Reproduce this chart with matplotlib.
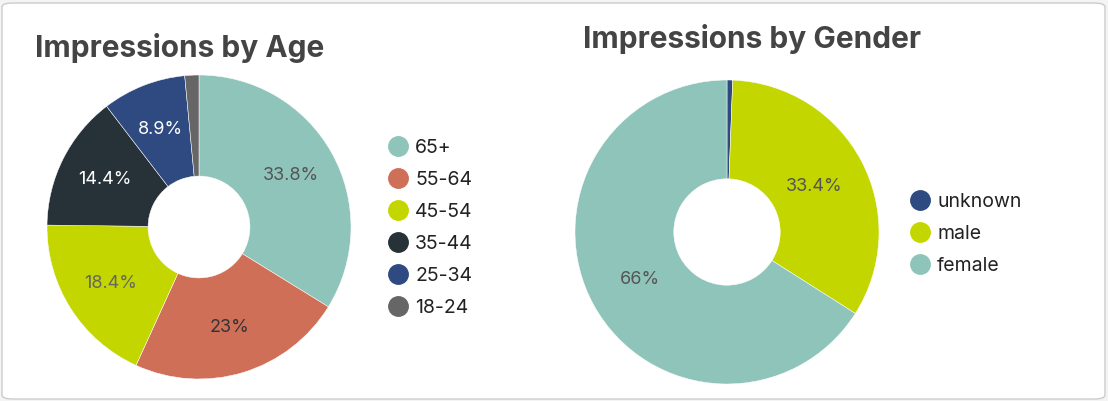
import matplotlib
matplotlib.use('Agg')
import matplotlib.pyplot as plt
from matplotlib.lines import Line2D
from matplotlib.patches import FancyBboxPatch

plt.rcParams['font.family'] = ['Inter', 'DejaVu Sans']

# Impressions by age (percent)
age_labels = ['65+', '55-64', '45-54', '35-44', '25-34', '18-24']
age_values = [33.8, 23.0, 18.4, 14.4, 8.9, 1.5]
age_colors = ['#8fc4ba', '#d06f58', '#c3d600', '#263238', '#2f4a80', '#666666']
age_text_colors = ['#555555', '#333333', '#666666', 'white', 'white', 'white']

# Impressions by gender (percent)
gender_labels = ['unknown', 'male', 'female']
gender_values = [0.6, 33.4, 66.0]
gender_colors = ['#2f4a80', '#c3d600', '#8fc4ba']
gender_text_colors = ['white', '#555555', '#555555']

W, H = 1108, 401
fig = plt.figure(figsize=(W / 100, H / 100), dpi=100, facecolor='#f4f4f4')

# white card behind everything
card = FancyBboxPatch((2 / W, 2 / H), 1103 / W, 396 / H,
                      boxstyle='round,pad=0,rounding_size=0.01',
                      transform=fig.transFigure, facecolor='white',
                      edgecolor='#cccccc', linewidth=1.0, zorder=-10)
fig.patches.append(card)


def fmt_pct(p):
    if p < 2:
        return ''
    return f'{p:.1f}%'.replace('.0%', '%')


def donut(cx, cy, r, values, colors, text_colors, hole, pctdist):
    ax = fig.add_axes([(cx - r) / W, (H - cy - r) / H, 2 * r / W, 2 * r / H])
    ax.patch.set_visible(False)
    wedges, texts, autotexts = ax.pie(
        values, colors=colors, startangle=90, counterclock=False,
        autopct=fmt_pct, pctdistance=pctdist,
        wedgeprops=dict(width=1 - hole, edgecolor='white', linewidth=0.35),
        textprops=dict(fontsize=13))
    for t, c in zip(autotexts, text_colors):
        t.set_color(c)
    ax.set_xlim(-1, 1)
    ax.set_ylim(-1, 1)
    return ax


donut(199, 227, 152, age_values, age_colors, age_text_colors, 0.335, 0.69)
donut(727, 232, 152, gender_values, gender_colors, gender_text_colors, 0.35, 0.65)

fig.text(35 / W, 1 - 48 / H, 'Impressions by Age', fontsize=21.5, fontweight='bold',
         color='#444444', va='center', ha='left')
fig.text(583 / W, 1 - 39 / H, 'Impressions by Gender', fontsize=21.5, fontweight='bold',
         color='#444444', va='center', ha='left')


def circle_handles(colors):
    return [Line2D([], [], marker='o', linestyle='', markersize=14,
                   markerfacecolor=c, markeredgecolor=c) for c in colors]


leg_kw = dict(loc='upper left', frameon=False, fontsize=14, handletextpad=0.35,
              labelspacing=0.72, handlelength=1.05, borderpad=0, borderaxespad=0,
              labelcolor='#222222')
fig.legend(circle_handles(age_colors), age_labels,
           bbox_to_anchor=(388 / W, 1 - 139 / H), **leg_kw)
fig.legend(circle_handles(gender_colors), gender_labels,
           bbox_to_anchor=(910 / W, 1 - 193 / H), **leg_kw)

fig.savefig('out.png', dpi=100, facecolor=fig.get_facecolor())
